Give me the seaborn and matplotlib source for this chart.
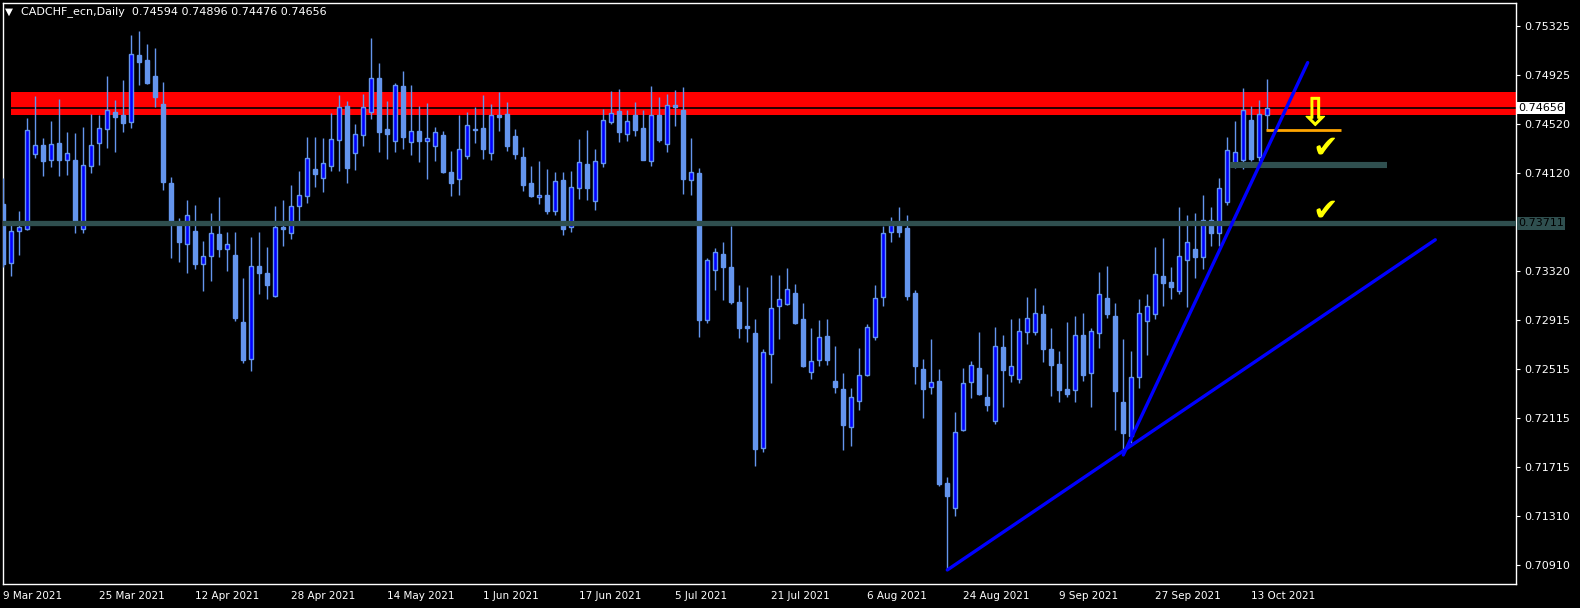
import numpy as np
import pandas as pd
import matplotlib
matplotlib.use("Agg")
import matplotlib.pyplot as plt
from matplotlib.patches import Rectangle
import matplotlib.patheffects as pe
import seaborn as sns

# ---------------- data ----------------
opens = [0.73869, 0.73383, 0.73651, 0.73667, 0.74276, 0.74350, 0.74227, 0.74369, 0.74227, 0.74229,
         0.73667, 0.74178, 0.74371, 0.74481, 0.74620, 0.74595, 0.74538, 0.75089, 0.75048, 0.74917,
         0.74688, 0.74041, 0.73705, 0.73539, 0.73648, 0.73380, 0.73440, 0.73623, 0.73503, 0.73451,
         0.72903, 0.72602, 0.73361, 0.73304, 0.73118, 0.73678, 0.73629, 0.73850, 0.73932, 0.74153,
         0.74085, 0.74183, 0.74390, 0.74671, 0.74284, 0.74431, 0.74620, 0.74901, 0.74483, 0.74382,
         0.74835, 0.74374, 0.74467, 0.74382, 0.74341, 0.74434, 0.74131, 0.74071, 0.74259, 0.74486,
         0.74491, 0.74289, 0.74595, 0.74606, 0.74427, 0.74255, 0.74042, 0.73924, 0.73943, 0.73815,
         0.74066, 0.73684, 0.73998, 0.74197, 0.73897, 0.74208, 0.74544, 0.74631, 0.74446, 0.74599,
         0.74492, 0.74225, 0.74599, 0.74364, 0.74678, 0.74640, 0.74069, 0.74124, 0.72922, 0.73332,
         0.73460, 0.73354, 0.73067, 0.72870, 0.72813, 0.71874, 0.72638, 0.73037, 0.73048, 0.73138,
         0.72925, 0.72491, 0.72589, 0.72788, 0.72420, 0.72352, 0.72040, 0.72253, 0.72472, 0.72777,
         0.73105, 0.73637, 0.73695, 0.73673, 0.73141, 0.72518, 0.72373, 0.72420, 0.71585, 0.71382,
         0.72016, 0.72409, 0.72526, 0.72289, 0.72089, 0.72698, 0.72466, 0.72439, 0.72824, 0.72824,
         0.72969, 0.72682, 0.72559, 0.72354, 0.72343, 0.72794, 0.72483, 0.72810, 0.73100, 0.72952,
         0.72248, 0.71969, 0.72450, 0.72908, 0.72966, 0.73277, 0.73231, 0.73154, 0.73408, 0.73498,
         0.73438, 0.73736, 0.73629, 0.73883, 0.74186, 0.74227, 0.74558, 0.74252, 0.74594]
highs = [0.74079, 0.73711, 0.73812, 0.74573, 0.74754, 0.74410, 0.74549, 0.74729, 0.74459, 0.74451,
         0.74500, 0.74606, 0.74598, 0.74917, 0.74721, 0.74885, 0.75253, 0.75286, 0.75179, 0.75147,
         0.74868, 0.74090, 0.73754, 0.73902, 0.73861, 0.73566, 0.73795, 0.73926, 0.73640, 0.73640,
         0.73263, 0.73599, 0.73640, 0.73517, 0.73852, 0.73902, 0.74024, 0.74139, 0.74418, 0.74418,
         0.74409, 0.74611, 0.74762, 0.74712, 0.74524, 0.74770, 0.75229, 0.75024, 0.74712, 0.74857,
         0.74958, 0.74843, 0.74671, 0.74696, 0.74497, 0.74467, 0.74303, 0.74598, 0.74622, 0.74663,
         0.74762, 0.74688, 0.74786, 0.74705, 0.74484, 0.74336, 0.74181, 0.74222, 0.74156, 0.74132,
         0.74132, 0.74140, 0.74402, 0.74476, 0.74320, 0.74648, 0.74795, 0.74811, 0.74640, 0.74705,
         0.74640, 0.74836, 0.74746, 0.74771, 0.74803, 0.74828, 0.74410, 0.74164, 0.73427, 0.73509,
         0.73558, 0.73689, 0.73206, 0.73190, 0.72928, 0.72679, 0.73288, 0.73288, 0.73345, 0.73214,
         0.73059, 0.72854, 0.72919, 0.72928, 0.72706, 0.72485, 0.72363, 0.72690, 0.72887, 0.73206,
         0.73689, 0.73763, 0.73845, 0.73779, 0.73165, 0.72600, 0.72764, 0.72518, 0.71634, 0.72166,
         0.72526, 0.72584, 0.72821, 0.72477, 0.72862, 0.72797, 0.72928, 0.72936, 0.73108, 0.73181,
         0.73042, 0.72854, 0.72666, 0.72903, 0.72952, 0.72977, 0.72854, 0.73311, 0.73362, 0.73059,
         0.72764, 0.72666, 0.73091, 0.73132, 0.73517, 0.73591, 0.73353, 0.73841, 0.73780, 0.73796,
         0.73943, 0.73841, 0.74083, 0.74416, 0.74549, 0.74820, 0.74672, 0.74721, 0.74896]
lows = [0.73350, 0.73282, 0.73451, 0.73656, 0.74249, 0.74101, 0.74175, 0.74101, 0.74109, 0.73634,
        0.73634, 0.74126, 0.74188, 0.74330, 0.74298, 0.74461, 0.74494, 0.74844, 0.74855, 0.74666,
        0.73984, 0.73430, 0.73397, 0.73307, 0.73339, 0.73159, 0.73241, 0.73438, 0.73323, 0.72914,
        0.72570, 0.72504, 0.73132, 0.73091, 0.73110, 0.73525, 0.73582, 0.73730, 0.73877, 0.74011,
        0.73967, 0.74142, 0.74139, 0.74044, 0.74150, 0.74347, 0.74568, 0.74295, 0.74240, 0.74297,
        0.74322, 0.74270, 0.74216, 0.74076, 0.74224, 0.74120, 0.73937, 0.73945, 0.74240, 0.74371,
        0.74240, 0.74232, 0.74469, 0.74303, 0.74238, 0.73976, 0.73930, 0.73870, 0.73788, 0.73780,
        0.73616, 0.73640, 0.73911, 0.73902, 0.73820, 0.74173, 0.74525, 0.74377, 0.74386, 0.74427,
        0.74230, 0.74181, 0.74377, 0.74296, 0.74508, 0.73952, 0.73943, 0.72783, 0.72898, 0.73165,
        0.73083, 0.73053, 0.72775, 0.72742, 0.71726, 0.71841, 0.72406, 0.72767, 0.73045, 0.72890,
        0.72537, 0.72439, 0.72545, 0.72554, 0.72324, 0.71857, 0.71890, 0.72185, 0.72463, 0.72758,
        0.73034, 0.73558, 0.73602, 0.73083, 0.72395, 0.72120, 0.72316, 0.71563, 0.70872, 0.71317,
        0.72010, 0.72283, 0.72305, 0.72177, 0.72065, 0.72207, 0.72414, 0.72406, 0.72726, 0.72799,
        0.72578, 0.72300, 0.72251, 0.72291, 0.72251, 0.72423, 0.72210, 0.72693, 0.72939, 0.72021,
        0.71855, 0.71909, 0.72363, 0.72633, 0.72930, 0.73034, 0.73094, 0.73135, 0.73029, 0.73266,
        0.73340, 0.73528, 0.73526, 0.73864, 0.74162, 0.74154, 0.74219, 0.74225, 0.74476]
closes = [0.73378, 0.73651, 0.73683, 0.74472, 0.74350, 0.74224, 0.74358, 0.74232, 0.74284, 0.73724,
          0.74186, 0.74350, 0.74489, 0.74636, 0.74584, 0.74535, 0.75095, 0.75035, 0.74863, 0.74748,
          0.74052, 0.73711, 0.73561, 0.73776, 0.73380, 0.73440, 0.73629, 0.73503, 0.73539, 0.72938,
          0.72594, 0.73358, 0.73307, 0.73206, 0.73678, 0.73667, 0.73850, 0.73940, 0.74243, 0.74117,
          0.74202, 0.74398, 0.74661, 0.74166, 0.74439, 0.74661, 0.74898, 0.74461, 0.74445, 0.74841,
          0.74420, 0.74464, 0.74388, 0.74407, 0.74456, 0.74128, 0.74044, 0.74317, 0.74513, 0.74475,
          0.74322, 0.74595, 0.74584, 0.74344, 0.74279, 0.74025, 0.73935, 0.73943, 0.73812, 0.74055,
          0.73668, 0.74009, 0.74211, 0.74001, 0.74219, 0.74555, 0.74612, 0.74459, 0.74547, 0.74476,
          0.74230, 0.74599, 0.74394, 0.74678, 0.74664, 0.74074, 0.74129, 0.72922, 0.73411, 0.73477,
          0.73356, 0.73070, 0.72857, 0.72857, 0.71866, 0.72655, 0.73015, 0.73089, 0.73171, 0.72898,
          0.72545, 0.72586, 0.72777, 0.72594, 0.72373, 0.72062, 0.72286, 0.72466, 0.72859, 0.73097,
          0.73629, 0.73695, 0.73643, 0.73119, 0.72545, 0.72357, 0.72412, 0.71579, 0.71481, 0.71999,
          0.72403, 0.72551, 0.72313, 0.72223, 0.72706, 0.72510, 0.72540, 0.72827, 0.72933, 0.72974,
          0.72682, 0.72554, 0.72349, 0.72316, 0.72794, 0.72472, 0.72827, 0.73130, 0.72971, 0.72341,
          0.71997, 0.72450, 0.72974, 0.73031, 0.73293, 0.73225, 0.73192, 0.73441, 0.73555, 0.73438,
          0.73736, 0.73635, 0.73998, 0.74309, 0.74293, 0.74637, 0.74238, 0.74604, 0.74656]

date_labels = ["9 Mar 2021", "25 Mar 2021", "12 Apr 2021", "28 Apr 2021", "14 May 2021",
               "1 Jun 2021", "17 Jun 2021", "5 Jul 2021", "21 Jul 2021", "6 Aug 2021",
               "24 Aug 2021", "9 Sep 2021", "27 Sep 2021", "13 Oct 2021"]
bars_per_label = 12

price_ticks = [0.75325, 0.74925, 0.74520, 0.74120, 0.73320, 0.72915,
               0.72515, 0.72115, 0.71715, 0.71310, 0.70910]

symbol_title = "CADCHF_ecn,Daily  0.74594 0.74896 0.74476 0.74656"
bid_price = 0.74656
resistance_zone = [0.74598, 0.74787]
zone_start_bar = 0.96
support_level = 0.73711
minor_support = 0.74189
minor_support_bars = [153.3, 173.0]
target_level = 0.74473
target_bars = [157.8, 167.2]
trend_steep_x = [140.0, 163.05]
trend_steep_y = [0.71814, 0.75027]
trend_base_x = [118.0, 179.0]
trend_base_y = [0.70872, 0.73576]
arrow_pos = (164.0, 0.74600)
check_marks = [(165.2, 0.74330), (165.2, 0.73814)]

# ---------------- style ----------------
BG = "black"
WICK = "#6495ED"
BULL = "#0000FF"
TEAL = "#2F4F4F"

sns.set_theme(style="dark", rc={"axes.facecolor": BG, "figure.facecolor": BG,
                                "axes.edgecolor": "white", "axes.grid": False})
plt.rcParams["font.family"] = ["DejaVu Sans"]

W, H = 1580, 608
fig = plt.figure(figsize=(W / 100, H / 100), dpi=100)
left_px, right_px, top_px, bottom_px = 3, 1516, 3, 584
ax = fig.add_axes([left_px / W, 1 - bottom_px / H, (right_px - left_px) / W, (bottom_px - top_px) / H])
ax.set_facecolor(BG)

df = pd.DataFrame({"open": opens, "high": highs, "low": lows, "close": closes})
df["bar"] = np.arange(len(df))
df["up"] = df["close"] >= df["open"]
df["body_lo"] = df[["open", "close"]].min(axis=1)
df["body_h"] = (df["close"] - df["open"]).abs().clip(lower=0.00007)

xmin, xmax = -0.04, 189.09
ax.set_xlim(xmin, xmax)
ax.set_ylim(0.70757, 0.75515)

# resistance zone (behind candles)
ax.add_patch(Rectangle((zone_start_bar, resistance_zone[0]), xmax - zone_start_bar,
                       resistance_zone[1] - resistance_zone[0], facecolor="#FF0000",
                       edgecolor="none", zorder=1))
ax.axhline(bid_price, color="black", lw=1.2, zorder=1.5)

# candles
ax.vlines(df["bar"], df["low"], df["high"], color=WICK, lw=1.0, zorder=3)
up = df[df["up"]]
dn = df[~df["up"]]
ax.bar(up["bar"], up["body_h"], bottom=up["body_lo"], width=0.5, color=BULL,
       edgecolor=WICK, linewidth=1.0, zorder=4)
ax.bar(dn["bar"], dn["body_h"], bottom=dn["body_lo"], width=0.5, color=WICK,
       edgecolor=WICK, linewidth=1.0, zorder=4)

# support lines
ax.axhline(support_level, color=TEAL, lw=3.8, zorder=5)
ax.plot(minor_support_bars, [minor_support] * 2, color=TEAL, lw=4.4, zorder=5,
        solid_capstyle="butt")
ax.plot(target_bars, [target_level] * 2, color="#FFA500", lw=2.0, zorder=6,
        solid_capstyle="butt")

# trend lines
sns.lineplot(x=trend_steep_x, y=trend_steep_y, ax=ax, color=BULL, linewidth=2.4, zorder=7)
sns.lineplot(x=trend_base_x, y=trend_base_y, ax=ax, color=BULL, linewidth=2.4, zorder=7)

# annotations
ax.text(arrow_pos[0], arrow_pos[1], "\u21E9", color="#FFFF00", fontsize=27,
        ha="center", va="center", zorder=8,
        path_effects=[pe.withStroke(linewidth=0.8, foreground="#FFFF00")])
for cx, cy in check_marks:
    ax.text(cx, cy, "\u2714", color="#FFFF00", fontsize=22, ha="center", va="center",
            zorder=8, style="italic")

# axes styling
ax.set_xlabel("")
ax.set_ylabel("")
for s in ax.spines.values():
    s.set_color("white")
    s.set_linewidth(1.0)
ax.yaxis.tick_right()
ax.set_yticks(price_ticks)
ax.set_yticklabels([f"{v:.5f}" for v in price_ticks])
ax.set_xticks(list(range(0, bars_per_label * len(date_labels), bars_per_label)))
ax.set_xticklabels(date_labels)
ax.tick_params(axis="y", colors="white", labelsize=8, length=3, width=0.8, pad=3,
               direction="out", left=False, right=True)
ax.tick_params(axis="x", colors="white", labelsize=7.5, length=3, width=0.8, pad=2,
               direction="out")
for lbl in ax.get_xticklabels():
    lbl.set_horizontalalignment("left")

# price labels on the right
tr = ax.get_yaxis_transform()
ax.text(1.0015, bid_price, "0.74656", transform=tr, color="black", fontsize=8,
        ha="left", va="center", zorder=10, clip_on=False,
        bbox=dict(boxstyle="square,pad=0.12", fc="white", ec="none"))
ax.text(1.0015, support_level, "0.73711", transform=tr, color="black", fontsize=8,
        ha="left", va="center", zorder=10, clip_on=False,
        bbox=dict(boxstyle="square,pad=0.12", fc=TEAL, ec="none"))

# title
fig.text(5 / W, 1 - 12 / H, "\u25BC", color="white", fontsize=7.5, ha="left", va="center")
fig.text(21 / W, 1 - 12 / H, symbol_title, color="white", fontsize=8, ha="left", va="center")

fig.savefig("out.png", dpi=100, facecolor=BG)
